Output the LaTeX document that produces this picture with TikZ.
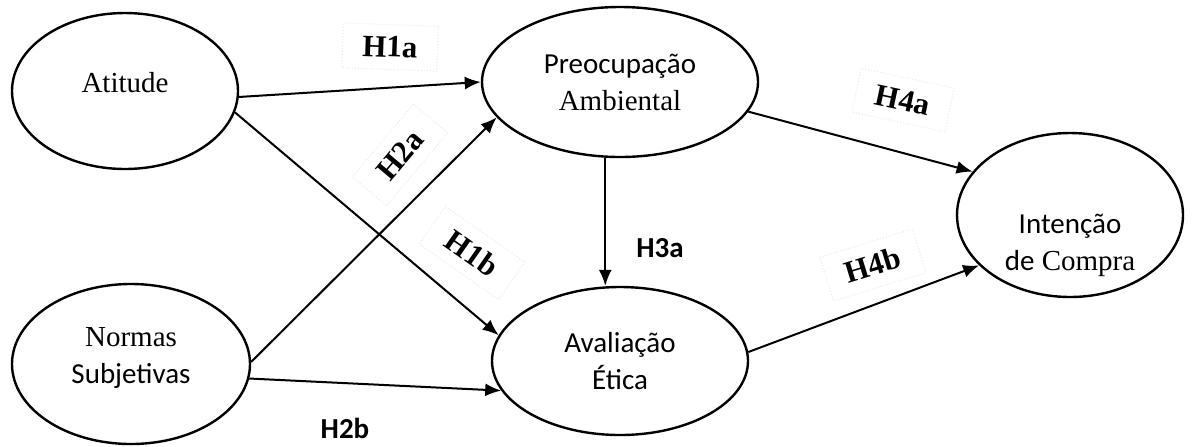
\documentclass[tikz,border=0pt]{standalone}
\usepackage{fontspec}
\setmainfont{Liberation Serif}
\newfontfamily\calibri{Carlito}
\usepackage{tikz}
\usetikzlibrary{positioning, calc, shapes, arrows.meta}

\begin{document}
\begin{tikzpicture}[x=0.5pt, y=-0.5pt, >={Latex[length=8pt,width=6.5pt]}, line width=1pt,
				construto/.style={ellipse, draw, line width=1.2pt, inner sep=0pt, align=center,
					font=\fontsize{14.5}{18.5}\selectfont},
				hip/.style={font=\fontsize{15.5}{18}\selectfont\bfseries, draw=black!9, densely dotted,
					line width=0.5pt, inner xsep=10pt, inner ysep=6pt},
				hipc/.style={font=\calibri\fontsize{14.5}{18}\selectfont\bfseries} ]
				\useasboundingbox (0,0) rectangle (1202,446);
				
				%Construtos:
				\node[construto, minimum width=113pt, minimum height=78pt] (A) at (125,91)  {\raisebox{4pt}[\height][\depth]{Atitude}};
				\node[construto, minimum width=119pt, minimum height=80pt] (N) at (131,364) {\raisebox{3pt}[\height][\depth]{Normas}\\\raisebox{3pt}[\height][\depth]{\calibri Subjetivas}};
				\node[construto, minimum width=138pt, minimum height=75pt] (P) at (620,82)  {{\calibri Preocupação}\\Ambiental};
				\node[construto, minimum width=128pt, minimum height=74pt] (E) at (620,361) {\calibri Avaliação\\\calibri Ética};
				\node[construto, minimum width=113pt, minimum height=82pt] (I) at (1070,215)
					{\raisebox{-15pt}[\height][\depth]{\calibri Intenção}\\\raisebox{-15pt}[\height][\depth]{{\calibri de} Compra}};
				
				%Hipóteses:
				\node[hip, rotate=-2]  (h1a) at (390,47)  {H1a};
				\node[hip, rotate=50]  (h2a) at (400,155) {H2a};
				\node[hip, rotate=-35] (h1b) at (472,253) {H1b};
				\node[hip, rotate=-12] (h4a) at (903,100) {H4a};
				\node[hip, rotate=17]  (h4b) at (873,265) {H4b};
				\node[hipc]            (h3a) at (660,248) {H3a};
				\node[hipc]            (h2b) at (345,428) {H2b};
				
				\path[->]
				%(Partida) edge (Destino)
				(A.-3)   edge (P.180)
				(A.-11)  edge (E.168)
				(N.1)    edge (P.-164)
				(N.-7)   edge (E.194)
				(P.-101) edge (P.-101 |- E.north)
				(P.-13)  edge (I.156)
				(E.4)    edge (I.209);
			\end{tikzpicture}
\end{document}
